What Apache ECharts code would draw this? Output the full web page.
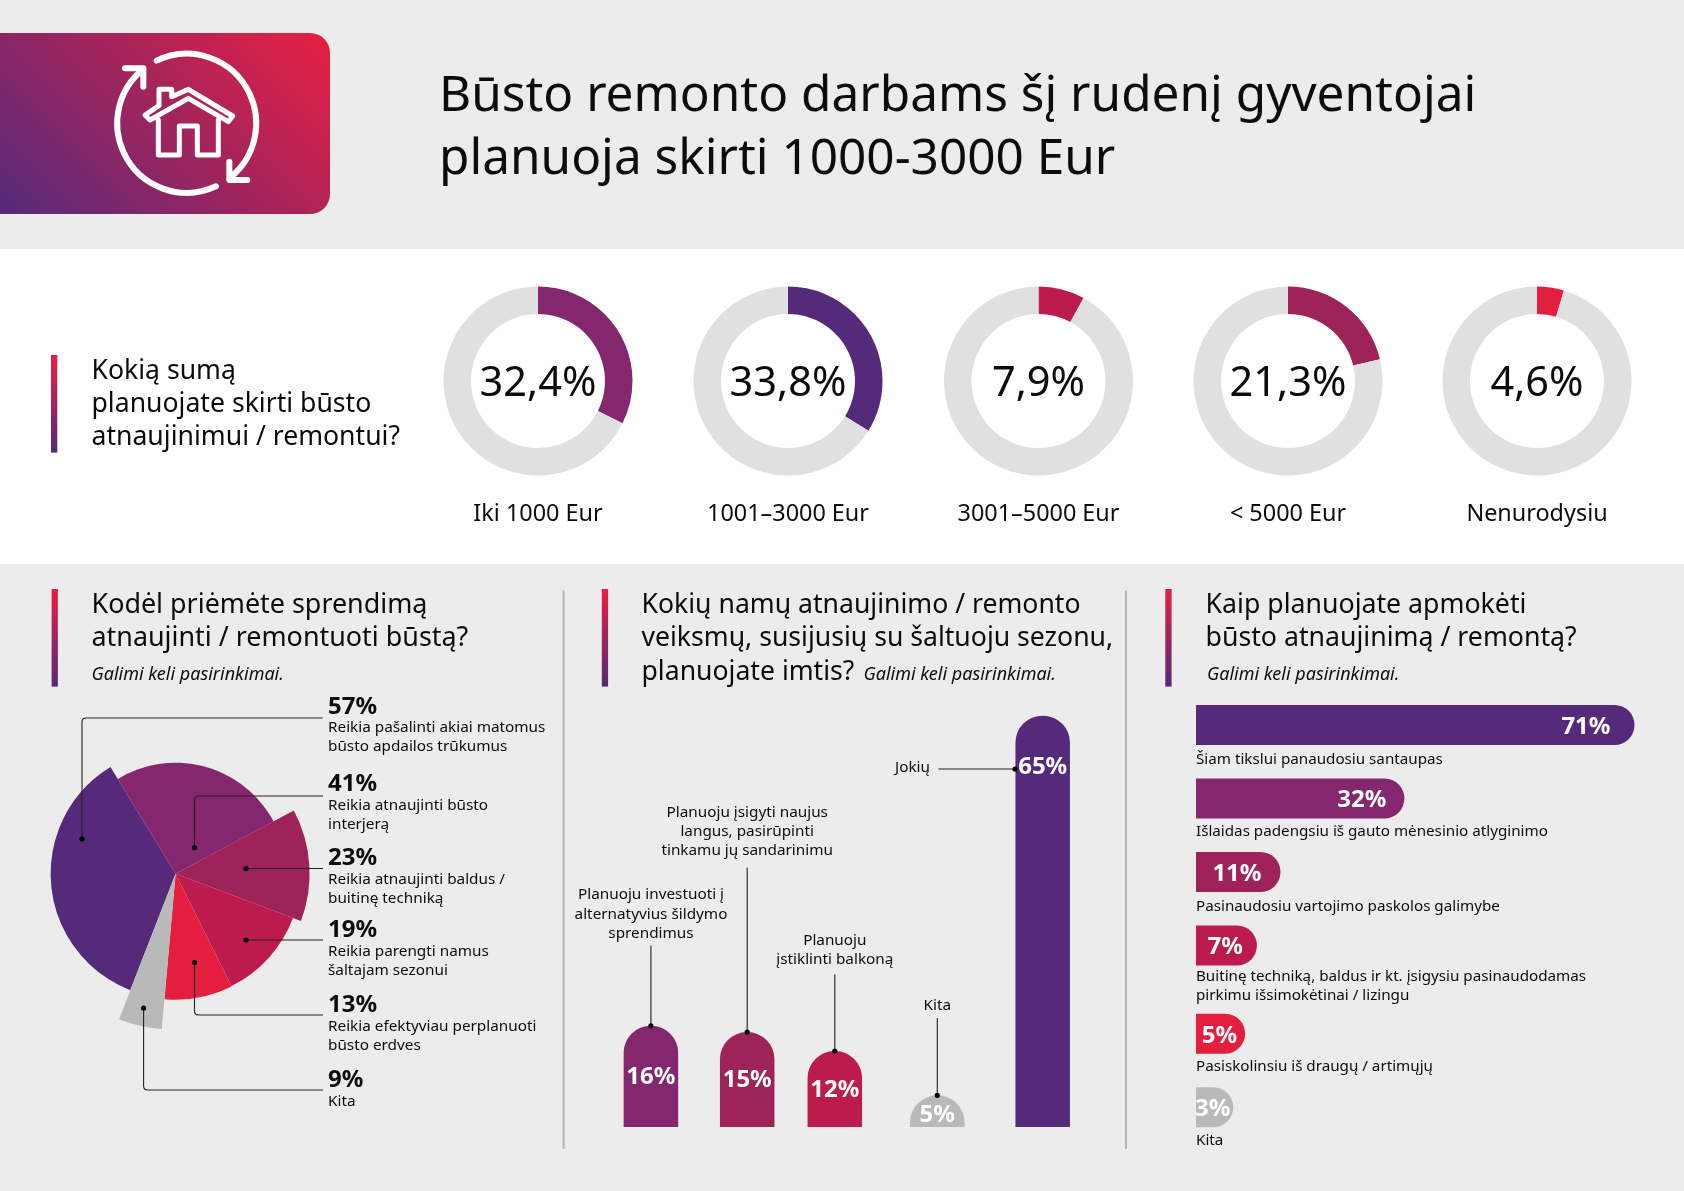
<!DOCTYPE html>
<html lang="lt">
<head>
<meta charset="utf-8">
<title>Būsto remontas</title>
<script src="https://cdn.jsdelivr.net/npm/echarts@6/dist/echarts.min.js"></script>
<style>
  html, body { margin: 0; padding: 0; background: #ececec; }
  #main { width: 1684px; height: 1191px; }
</style>
</head>
<body>
<div id="main"></div>
<script>
const FONT = '"Noto Sans", sans-serif';
const PURPLE = '#552a7b', PLUM = '#84276e', WINE = '#9e2358', CRIMSON = '#bd1a4d', RED = '#e41e3f', GREY = '#b9b9b9';

// ========== data ==========
const budget = [
  { name: 'Iki 1000 Eur', value: 32.4, color: PLUM, x: 538 },
  { name: '1001–3000 Eur', value: 33.8, color: PURPLE, x: 788 },
  { name: '3001–5000 Eur', value: 7.9, color: CRIMSON, x: 1038.5 },
  { name: '< 5000 Eur', value: 21.3, color: WINE, x: 1288 },
  { name: 'Nenurodysiu', value: 4.6, color: RED, x: 1537 }
];

// slice sweep and radius, they don't follow the value exactly
const reasons = [
  { pct: 57, sweep: 127.3, r: 125, color: PURPLE, lines: ['Reikia pašalinti akiai matomus', 'būsto apdailos trūkumus'], y: 707 },
  { pct: 41, sweep: 93.3, r: 111, color: PLUM, lines: ['Reikia atnaujinti būsto', 'interjerą'], y: 784.5 },
  { pct: 23, sweep: 48.8, r: 134, color: WINE, lines: ['Reikia atnaujinti baldus /', 'buitinę techniką'], y: 858.5 },
  { pct: 19, sweep: 42.9, r: 125.5, color: CRIMSON, lines: ['Reikia parengti namus', 'šaltajam sezonui'], y: 930.5 },
  { pct: 13, sweep: 31.5, r: 126, color: RED, lines: ['Reikia efektyviau perplanuoti', 'būsto erdves'], y: 1005.5 },
  { pct: 9, sweep: 16.1, r: 156, color: GREY, lines: ['Kita'], y: 1080.5 }
];
const PIE_START = 201.3; // degrees clockwise from the top

// pos = place along the baseline, bars are not evenly spaced
const actions = [
  { pos: 90.9, pct: 16, color: PLUM },
  { pos: 187.2, pct: 15, color: WINE },
  { pos: 274.8, pct: 12, color: CRIMSON },
  { pos: 377.3, pct: 5, color: GREY, labelPos: 'inside', offset: [0, 4] },
  { pos: 482.7, pct: 65, color: PURPLE, labelPos: 'insideTop', dist: 39 }
];
const ACTION_GRID = { left: 560, top: 684, width: 540, height: 443 };
const ACTION_MAX = 70;

// slot = row on a fine category axis, the row after the two line caption sits lower
const payment = [
  { pct: 71, slot: 2, color: PURPLE, dist: 24 },
  { pct: 32, slot: 7, color: PLUM, dist: 18 },
  { pct: 11, slot: 12, color: WINE, dist: 19 },
  { pct: 7, slot: 17, color: CRIMSON, dist: 14 },
  { pct: 5, slot: 23, color: RED, dist: 8 },
  { pct: 3, slot: 28, color: GREY, dist: 3 }
];
const BAR_PAD = 3.32; // the source starts every bar a bit longer so the label fits

// ========== helpers ==========
function txt(x, y, text, size, o) {
  o = o || {};
  return {
    type: 'text', x: x, y: y, z: 20, silent: true,
    style: {
      text: text, fill: o.fill || '#0c0c0c', fontSize: size, fontFamily: FONT,
      fontWeight: o.weight || 'normal', fontStyle: o.style || 'normal',
      textAlign: o.align || 'left', textVerticalAlign: 'middle'
    }
  };
}

function accent(x, y, h) {
  return {
    type: 'rect', z: 5, silent: true,
    shape: { x: x, y: y, width: 6.3, height: h },
    style: { fill: new echarts.graphic.LinearGradient(0, 0, 0, 1, [
      { offset: 0, color: '#e81f41' }, { offset: 1, color: PURPLE }
    ]) }
  };
}

// graphic has no plain 'path' type, so register one shape per svg path
let shapeCount = 0;
function pathType(d) {
  const name = 'p' + (shapeCount++);
  echarts.graphic.registerShape(name, echarts.graphic.extendPath(d, {}));
  return name;
}

// leader line with one rounded corner, ends in a dot on the mark
function leader(pathData, dotX, dotY) {
  return [
    { type: pathType(pathData), z: 15, silent: true,
      style: { fill: 'none', stroke: '#222', lineWidth: 1.1 } },
    { type: 'circle', z: 16, silent: true, shape: { cx: dotX, cy: dotY, r: 2.6 }, style: { fill: '#000' } }
  ];
}

// top of a bar in the middle chart, so the leader dots stay on the bars
function barTop(a) {
  return ACTION_GRID.top + ACTION_GRID.height * (1 - a.pct / ACTION_MAX);
}

function iconPath(d, width) {
  return {
    type: pathType(d), z: 6, silent: true, x: 90, y: 40, scaleX: 1 / 3, scaleY: 1 / 3,
    style: { fill: 'none', stroke: '#fff', lineWidth: width, lineCap: 'round', lineJoin: 'round' }
  };
}

function iconArc(from, to) {
  return {
    type: 'arc', z: 6, silent: true,
    shape: { cx: 186.7, cy: 123.3, r: 69.5, startAngle: from * Math.PI / 180, endAngle: to * Math.PI / 180, clockwise: true },
    style: { fill: 'none', stroke: '#fff', lineWidth: 6, lineCap: 'round' }
  };
}

// ========== series ==========
const series = [];

budget.forEach(b => {
  series.push({
    type: 'pie', silent: true, animation: false,
    center: [b.x, 381], radius: [67, 94.5], startAngle: 90,
    labelLine: { show: false },
    data: [
      { value: b.value, itemStyle: { color: b.color },
        label: { show: true, position: 'center', offset: [0, 3], formatter: String(b.value).replace('.', ',') + '%',
          color: '#0c0c0c', fontSize: 41.5, fontFamily: FONT } },
      { value: 100 - b.value, itemStyle: { color: '#e0e0e0' }, label: { show: false } }
    ]
  });
});

let angle = PIE_START;
reasons.forEach(s => {
  series.push({
    type: 'pie', silent: true, animation: false,
    center: [175.6, 873.7], radius: [0, s.r],
    startAngle: 90 - angle, endAngle: 90 - angle - s.sweep,
    label: { show: false }, labelLine: { show: false },
    data: [{ value: s.pct, itemStyle: { color: s.color } }]
  });
  angle += s.sweep;
});

series.push({
  type: 'bar', silent: true, animation: false, xAxisIndex: 0, yAxisIndex: 0, barWidth: 54.5,
  data: actions.map(a => ({
    value: [a.pos, a.pct],
    itemStyle: { color: a.color, borderRadius: [27, 27, 0, 0] },
    label: {
      show: true, formatter: a.pct + '%', color: '#fff', fontSize: 24, fontWeight: 'bold', fontFamily: FONT,
      position: a.labelPos || 'inside', distance: a.dist || 0, offset: a.offset || [0, 1]
    }
  }))
});

series.push({
  type: 'bar', silent: true, animation: false, xAxisIndex: 1, yAxisIndex: 1, barWidth: 40,
  data: payment.map(p => ({
    value: [p.pct + BAR_PAD, p.slot],
    itemStyle: { color: p.color, borderRadius: [0, 20, 20, 0] },
    label: {
      show: true, formatter: p.pct + '%', color: '#fff', fontSize: 24, fontWeight: 'bold', fontFamily: FONT,
      position: 'insideRight', distance: p.dist, offset: [0, 2]
    }
  }))
});

// ========== texts, lines and icon ==========
const g = [];

g.push({ type: 'rect', z: -10, silent: true, shape: { x: 0, y: 249, width: 1684, height: 315 }, style: { fill: '#fff' } });
g.push({
  type: 'rect', z: 1, silent: true, shape: { x: -30, y: 33, width: 360, height: 181, r: 20 },
  style: { fill: new echarts.graphic.LinearGradient(0, 214, 255.5, -41.5, [
    { offset: 0, color: PURPLE }, { offset: 1, color: '#e81f41' }
  ], true) }
});

// house icon, house and arrow heads drawn in 3x zoom coordinates
g.push(iconArc(-115.6, 49.8));
g.push(iconArc(65.1, 231.3));
g.push(iconPath('M418 365 L418 420 L472 420', 18));
g.push(iconPath('M105 85 L160 85 L160 140', 18));
g.push(iconPath('M180 240 L165 225 L207 197 L207 148 L245 148 L245 170 L295 148 L428 228 L415 245 L295 175 Z', 15));
g.push(iconPath('M205 240 L205 345 L268 345 L268 258 L322 258 L322 345 L385 345 L385 240', 15));

g.push(txt(439, 97, 'Būsto remonto darbams šį rudenį gyventojai', 49.5));
g.push(txt(439, 160, 'planuoja skirti 1000-3000 Eur', 49.5));

g.push(accent(51, 355, 97.6));
['Kokią sumą', 'planuojate skirti būsto', 'atnaujinimui / remontui?'].forEach((t, i) => {
  g.push(txt(91.5, 371 + i * 33.4, t, 26.6));
});
budget.forEach(b => g.push(txt(b.x, 514, b.name, 23.4, { align: 'center' })));

// section headings
g.push(accent(51.6, 589, 97.6));
g.push(txt(91.5, 605, 'Kodėl priėmėte sprendimą', 26.9));
g.push(txt(91.5, 638.7, 'atnaujinti / remontuoti būstą?', 26.9));
g.push(txt(91.5, 674.8, 'Galimi keli pasirinkimai.', 18, { style: 'italic' }));

g.push(accent(601.8, 589, 97.6));
g.push(txt(641.5, 605, 'Kokių namų atnaujinimo / remonto', 26.6));
g.push(txt(641.5, 638.7, 'veiksmų, susijusių su šaltuoju sezonu,', 26.6));
g.push(txt(641.5, 672.3, 'planuojate imtis?', 26.6));
g.push(txt(863.5, 674.8, 'Galimi keli pasirinkimai.', 18, { style: 'italic' }));

g.push(accent(1165.3, 589, 97.6));
g.push(txt(1205.5, 605, 'Kaip planuojate apmokėti', 26.7));
g.push(txt(1205.5, 638.7, 'būsto atnaujinimą / remontą?', 26.7));
g.push(txt(1207, 674.8, 'Galimi keli pasirinkimai.', 18, { style: 'italic' }));

[563.6, 1126].forEach(x => {
  g.push({ type: 'line', z: 5, silent: true, shape: { x1: x, y1: 590.6, x2: x, y2: 1149 }, style: { stroke: '#b5b5b5', lineWidth: 2 } });
});

// pie captions
reasons.forEach(s => {
  g.push(txt(328, s.y, s.pct + '%', 24, { weight: 'bold' }));
  s.lines.forEach((t, i) => g.push(txt(328, s.y + 21 + i * 19, t, 15.3)));
});
g.push(...leader('M82 839 L82 722 Q82 718 86 718 L322.5 718', 82, 839));
g.push(...leader('M194.5 847.6 L194.5 800 Q194.5 796 198.5 796 L323 796', 194.5, 847.6));
g.push(...leader('M246 868.5 L323 868.5', 246, 868.5));
g.push(...leader('M246 940 L323 940', 246, 940));
g.push(...leader('M194.5 962.6 L194.5 1011 Q194.5 1015 198.5 1015 L323 1015', 194.5, 962.6));
g.push(...leader('M143.6 1008 L143.6 1086 Q143.6 1090 147.6 1090 L323 1090', 143.6, 1008));

// bar captions
[
  [651, 894.6, 'Planuoju investuoti į'], [651, 914.4, 'alternatyvius šildymo'], [651, 933.4, 'sprendimus'],
  [747.2, 812.4, 'Planuoju įsigyti naujus'], [747.2, 831.4, 'langus, pasirūpinti'], [747.2, 850.4, 'tinkamu jų sandarinimu'],
  [834.8, 940.5, 'Planuoju'], [834.8, 959.5, 'įstiklinti balkoną'],
  [937.3, 1005.3, 'Kita']
].forEach(t => g.push(txt(t[0], t[1], t[2], 15.3, { align: 'center' })));
g.push(txt(930, 767.7, 'Jokių', 15.3, { align: 'right' }));

// start of each leader above its bar, x is the bar centre
[945.6, 867.7, 974.5, 1018].forEach((y1, i) => {
  const a = actions[i], x = ACTION_GRID.left + a.pos, top = barTop(a);
  g.push(...leader('M' + x + ' ' + y1 + ' L' + x + ' ' + top, x, top));
});
g.push(...leader('M938.4 769 L1015 769', 1015, 769));

// payment captions
[
  [759.8, 'Šiam tikslui panaudosiu santaupas'],
  [831.4, 'Išlaidas padengsiu iš gauto mėnesinio atlyginimo'],
  [906.5, 'Pasinaudosiu vartojimo paskolos galimybe'],
  [976.5, 'Buitinę techniką, baldus ir kt. įsigysiu pasinaudodamas'],
  [995.5, 'pirkimu išsimokėtinai / lizingu'],
  [1066.7, 'Pasiskolinsiu iš draugų / artimųjų'],
  [1140.6, 'Kita']
].forEach(t => g.push(txt(1196, t[0], t[1], 15.2)));

// ========== chart ==========
const chart = echarts.init(document.getElementById('main'));
chart.setOption({
  backgroundColor: '#ececec',
  animation: false,
  grid: [
    ACTION_GRID,
    { left: 1196, top: 688.25, width: 472, height: 455.7 }
  ],
  xAxis: [
    { type: 'value', gridIndex: 0, min: 0, max: ACTION_GRID.width, show: false },
    { type: 'value', gridIndex: 1, min: 0, max: 80, show: false }
  ],
  yAxis: [
    { type: 'value', gridIndex: 0, min: 0, max: ACTION_MAX, show: false },
    { type: 'category', gridIndex: 1, inverse: true, show: false, data: Array.from({ length: 31 }, (_, i) => i) }
  ],
  graphic: { elements: g },
  series: series
});
</script>
</body>
</html>
